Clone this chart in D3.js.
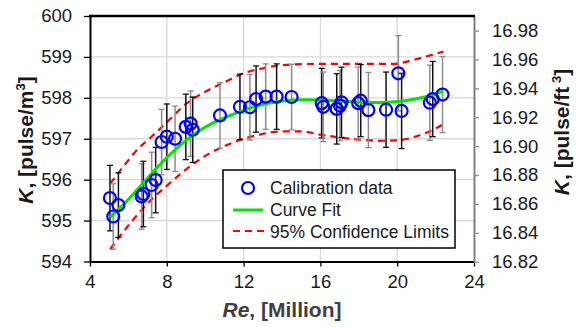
<!DOCTYPE html>
<html><head><meta charset="utf-8">
<script src="https://cdn.jsdelivr.net/npm/d3@7"></script>
<style>
body{margin:0;background:#fff}
svg{display:block}
text{font-family:"Liberation Sans",Arial,sans-serif}
</style>
</head><body>
<svg id="chart" width="577" height="327"></svg>
<script>
// Calibration data
const reData = [5.04,5.21,5.48,6.69,6.78,7.21,7.42,7.73,8.00,8.43,8.99,9.24,9.35,10.77,11.81,12.33,12.65,13.15,13.72,14.50,16.07,16.15,16.85,17.02,17.10,17.97,18.10,18.50,19.42,20.06,20.23,21.70,21.85,22.36];
const kData  = [595.55,595.10,595.38,595.59,595.65,595.87,595.99,596.92,597.05,597.00,597.29,597.37,597.22,597.57,597.78,597.77,597.97,598.03,598.03,598.02,597.87,597.78,597.73,597.81,597.89,597.87,597.93,597.70,597.71,598.60,597.68,597.88,597.97,598.08];
const kErr   = [0.80,0.80,0.79,0.80,0.80,0.80,0.80,0.80,0.80,0.80,0.80,0.80,0.80,0.80,0.80,0.80,0.81,0.80,0.80,0.80,0.85,0.85,0.86,0.86,0.86,0.88,0.88,0.92,0.92,0.92,0.92,0.92,0.92,0.93];
// Curve fit
const fitRe = [5.05,6.0,7.0,8.0,9.0,10.0,11.0,12.0,13.0,14.0,15.0,16.0,17.0,18.0,19.0,20.0,21.0,22.0,22.4];
const fitK  = [595.08,595.5,596.05,596.55,596.98,597.3,597.52,597.7,597.85,597.93,597.96,597.95,597.92,597.89,597.88,597.9,597.97,598.08,598.17];
// 95% confidence limits
const upRe = [5.05,5.7,6.5,7.2,8.0,9.0,10.0,11.0,12.0,13.0,14.0,16.0,18.0,19.8,20.8,21.8,22.4];
const upK  = [595.9,596.3,596.75,597.05,597.4,597.85,598.15,598.38,598.6,598.72,598.8,598.83,598.83,598.83,598.92,599.05,599.13];
const loRe = [5.05,6.0,7.0,8.0,9.0,10.0,11.0,12.0,13.0,14.0,15.0,16.0,17.0,18.0,19.0,20.0,21.0,22.0,22.4];
const loK  = [594.3,594.88,595.42,595.85,596.25,596.58,596.82,597.0,597.12,597.18,597.18,597.1,597.03,596.98,596.95,596.96,597.06,597.25,597.35];
// Axis ticks
const xTicks = [4,8,12,16,20,24];
const yTicks = [594,595,596,597,598,599,600];
const y2Ticks = [16.82,16.84,16.86,16.88,16.90,16.92,16.94,16.96,16.98];
const m3ToFt3 = 0.0283168;

const svg = d3.select("#chart");
const L=90, R=474, T=16, B=261.5;
const x = d3.scaleLinear().domain([4,24]).range([L,R]);
const y = d3.scaleLinear().domain([594,600]).range([B,T]);
const y2 = d3.scaleLinear().domain([594*m3ToFt3,600*m3ToFt3]).range([B,T]);

// grid
const g = svg.append("g");
g.selectAll(".vg").data(xTicks.slice(1,-1)).join("line")
  .attr("x1",d=>x(d)).attr("x2",d=>x(d)).attr("y1",T).attr("y2",B)
  .attr("stroke","#d9d9d9").attr("stroke-width",1.3);
g.selectAll(".hg").data(yTicks.slice(1,-1)).join("line")
  .attr("x1",L).attr("x2",R).attr("y1",d=>y(d)).attr("y2",d=>y(d))
  .attr("stroke","#d9d9d9").attr("stroke-width",1.3);

// confidence limits
const line = d3.line().x(d=>x(d[0])).y(d=>y(d[1])).curve(d3.curveMonotoneX);
svg.append("path").datum(upRe.map((r,i)=>[r,upK[i]])).attr("d",line)
  .attr("fill","none").attr("stroke","#ff0000").attr("stroke-width",2.2).attr("stroke-dasharray","7,5");
svg.append("path").datum(loRe.map((r,i)=>[r,loK[i]])).attr("d",line)
  .attr("fill","none").attr("stroke","#ff0000").attr("stroke-width",2.2).attr("stroke-dasharray","7,5");

// error bars
const eb = svg.append("g");
reData.forEach((r,i)=>{
  const c = i%2===0 ? "#111" : "#8c8c8c";
  const xx = x(r), y1=y(kData[i]+kErr[i]), y0=y(kData[i]-kErr[i]);
  eb.append("line").attr("x1",xx).attr("x2",xx).attr("y1",y1).attr("y2",y0).attr("stroke",c).attr("stroke-width",1.5);
  eb.append("line").attr("x1",xx-3).attr("x2",xx+3).attr("y1",y1).attr("y2",y1).attr("stroke",c).attr("stroke-width",1.3);
  eb.append("line").attr("x1",xx-3).attr("x2",xx+3).attr("y1",y0).attr("y2",y0).attr("stroke",c).attr("stroke-width",1.3);
});

// fit
svg.append("path").datum(fitRe.map((r,i)=>[r,fitK[i]])).attr("d",line.curve(d3.curveBasis))
  .attr("fill","none").attr("stroke","#00e600").attr("stroke-width",3);

// points
svg.append("g").selectAll("circle").data(reData).join("circle")
  .attr("cx",d=>x(d)).attr("cy",(d,i)=>y(kData[i])).attr("r",6)
  .attr("fill","none").attr("stroke","#0000ff").attr("stroke-width",2.2);

// axes
const ax = d3.axisBottom(x).tickValues(xTicks).tickSize(5).tickSizeOuter(0).tickPadding(8);
const gx = svg.append("g").attr("transform",`translate(0,${B})`).call(ax);
gx.select(".domain").attr("stroke","#000").attr("stroke-width",2);
gx.selectAll(".tick line").attr("stroke","#000").attr("stroke-width",1.3);
gx.selectAll("text").attr("font-size",18.5).attr("fill","#1a1a1a").attr("font-family",null);

const ay = d3.axisLeft(y).tickValues(yTicks).tickFormat(d3.format("d")).tickSize(6).tickSizeOuter(0).tickPadding(12);
const gy = svg.append("g").attr("transform",`translate(${L},0)`).call(ay);
gy.select(".domain").attr("stroke","#000").attr("stroke-width",2);
gy.selectAll(".tick line").attr("stroke","#000").attr("stroke-width",1.3);
gy.selectAll("text").attr("font-size",18.5).attr("fill","#1a1a1a").attr("font-family",null);

const ay2 = d3.axisRight(y2).tickValues(y2Ticks).tickFormat(d3.format(".2f")).tickSize(5).tickSizeOuter(0).tickPadding(13);
const gy2 = svg.append("g").attr("transform",`translate(${R},0)`).call(ay2);
gy2.select(".domain").attr("stroke","#7f7f7f").attr("stroke-width",2);
gy2.selectAll(".tick line").attr("stroke","#8c8c8c").attr("stroke-width",1.3);
gy2.selectAll("text").attr("font-size",18.5).attr("fill","#1a1a1a").attr("font-family",null);

// top border
svg.append("line").attr("x1",L-1).attr("x2",R+1).attr("y1",T).attr("y2",T).attr("stroke","#000").attr("stroke-width",2.5);

// axis titles
const xt = svg.append("text").attr("x",282).attr("y",317).attr("text-anchor","middle")
  .attr("font-size",21).attr("font-weight","bold").attr("fill","#404040");
xt.append("tspan").attr("font-style","italic").text("Re");
xt.append("tspan").text(", [Million]");

const yt = svg.append("text").attr("transform",`translate(33,140) rotate(-90)`).attr("text-anchor","middle")
  .attr("font-size",21).attr("font-weight","bold").attr("fill","#1a1a1a");
yt.append("tspan").attr("font-style","italic").text("K");
yt.append("tspan").text(", [pulse/m");
yt.append("tspan").attr("font-size",13).attr("dy",-8).text("3");
yt.append("tspan").attr("dy",8).text("]");

const yt2 = svg.append("text").attr("transform",`translate(569,132) rotate(-90)`).attr("text-anchor","middle")
  .attr("font-size",21).attr("font-weight","bold").attr("fill","#1a1a1a");
yt2.append("tspan").attr("font-style","italic").text("K");
yt2.append("tspan").text(", [pulse/ft");
yt2.append("tspan").attr("font-size",13).attr("dy",-8).text(" 3");
yt2.append("tspan").attr("dy",8).text("]");

// legend
const lg = svg.append("g");
lg.append("rect").attr("x",223).attr("y",170).attr("width",232).attr("height",78)
  .attr("fill","#fff").attr("stroke","#000").attr("stroke-width",1.5);
lg.append("circle").attr("cx",248).attr("cy",188).attr("r",6).attr("fill","none").attr("stroke","#0000ff").attr("stroke-width",2.2);
lg.append("line").attr("x1",233).attr("x2",263).attr("y1",210).attr("y2",210).attr("stroke","#00e600").attr("stroke-width",3);
lg.append("line").attr("x1",233).attr("x2",265).attr("y1",231).attr("y2",231).attr("stroke","#ff0000").attr("stroke-width",2.2).attr("stroke-dasharray","7,5");
const labels = ["Calibration data","Curve Fit","95% Confidence Limits"];
lg.selectAll(".lt").data(labels).join("text").attr("x",270).attr("y",(d,i)=>194+i*22)
  .attr("font-size",17.5).attr("fill","#1a1a1a").text(d=>d);
</script>
</body></html>
